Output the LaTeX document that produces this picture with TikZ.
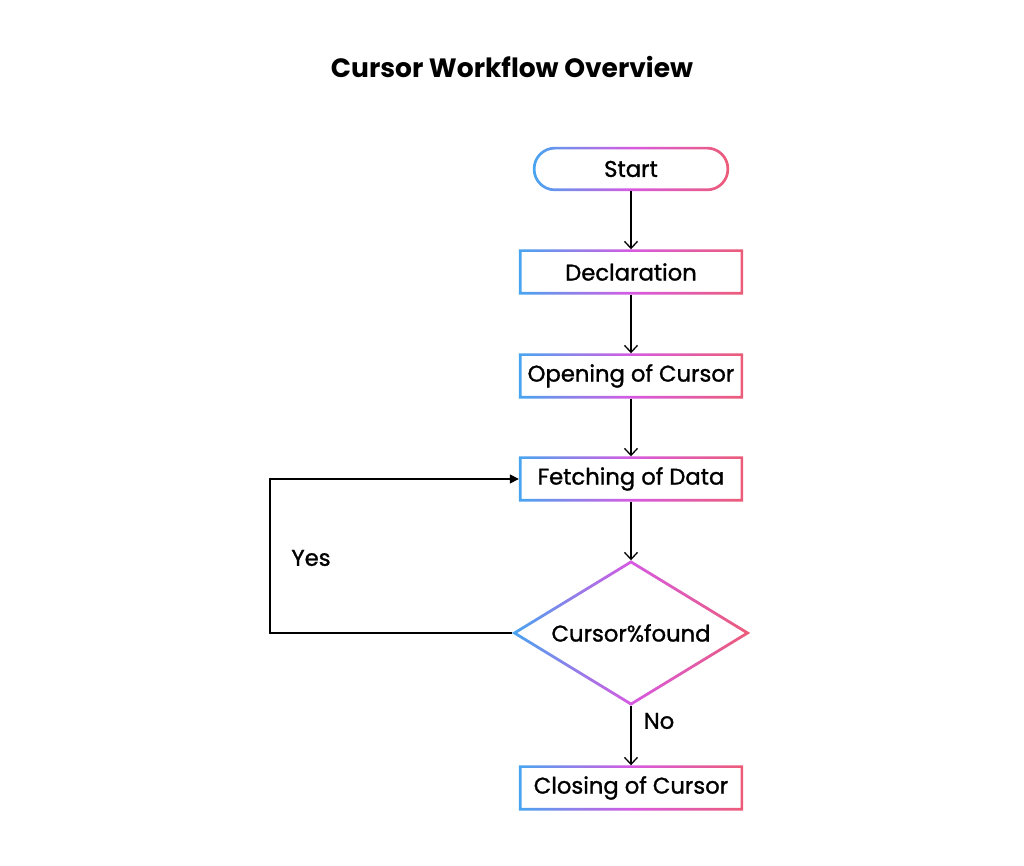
\documentclass[tikz,border=0pt]{standalone}
\usepackage{fontspec}
\setmainfont{Poppins}
\newfontfamily\medfont[FakeBold=1.2]{Poppins}
\usetikzlibrary{arrows.meta,shapes.geometric,calc}
\definecolor{gblue}{RGB}{72,165,240}
\definecolor{gmag}{RGB}{214,90,225}
\definecolor{gpink}{RGB}{236,92,120}
\tikzset{
  txt/.style={font=\medfont\fontsize{22.7}{26}\selectfont},
  proc/.style={rectangle, minimum width=224pt, minimum height=45pt, inner sep=0pt, txt},
  term/.style={rectangle, minimum width=196pt, minimum height=44pt, inner sep=0pt, txt},
  dec/.style={diamond, minimum width=238pt, minimum height=145pt, inner sep=0pt, aspect=1.64, txt},
  flow/.style={draw=black, line width=1.5pt, -{Straight Barb[length=7pt,width=13pt,line width=1.3pt]}},
  loopline/.style={draw=black, line width=1.5pt, -{Triangle[length=9pt,width=9pt]}},
  grad/.style={left color=gblue, right color=gpink, middle color=gmag, even odd rule},
  lbl/.style={txt},
  ttl/.style={font=\fontsize{26.5}{30}\selectfont\bfseries}
}
\newcommand\gradrect[1]{\shade[grad] (#1.south west) rectangle (#1.north east) ([shift={(2.7pt,2.7pt)}]#1.south west) rectangle ([shift={(-2.7pt,-2.7pt)}]#1.north east);}
\begin{document}
\begin{tikzpicture}[x=1pt,y=1pt]
\useasboundingbox (0,0) rectangle (1024,866);
\fill[white] (0,0) rectangle (1024,866);
\node[ttl] (title) at (512,799) {Cursor Workflow Overview};
\node[term] (s) at (631,697) {Start};
\node[proc] (dcl) at (631,594) {Declaration};
\node[proc] (op) at (631,490) {Opening of Cursor};
\node[proc] (f) at (631,387) {Fetching of Data};
\node[dec] (d) at (631,233) {Cursor\%found};
\node[proc] (cl) at (631,78) {Closing of Cursor};
% gradient borders
\shade[grad, rounded corners=22pt] (s.south west) rectangle (s.north east)
  [rounded corners=19.3pt] ([shift={(2.7pt,2.7pt)}]s.south west) rectangle ([shift={(-2.7pt,-2.7pt)}]s.north east);
\gradrect{dcl}
\gradrect{op}
\gradrect{f}
\gradrect{cl}
\shade[grad] (d.west) -- (d.north) -- (d.east) -- (d.south) -- cycle
  ($(d.center)!0.955!(d.west)$) -- ($(d.center)!0.955!(d.north)$) -- ($(d.center)!0.955!(d.east)$) -- ($(d.center)!0.955!(d.south)$) -- cycle;
% connectors
\draw[flow] (s) -- (dcl);
\draw[flow] (dcl) -- (op);
\draw[flow] (op) -- (f);
\draw[flow] (f) -- (d);
\draw[flow] (d) -- (cl);
\coordinate (lc) at (270,233);
\draw[loopline] (d.west) -- (d.west -| lc) |- (f.west);
\node[lbl] (yes) at (311,308) {Yes};
\node[lbl] (no) at (659,145) {No};
\end{tikzpicture}
\end{document}
